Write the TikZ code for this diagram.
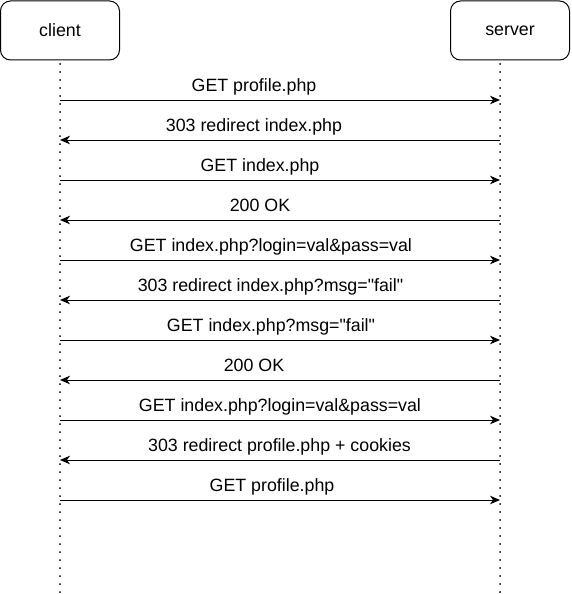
\documentclass[tikz,border=0pt]{standalone}
\usepackage{fontspec}
\setmainfont{Liberation Sans}
\usetikzlibrary{arrows.meta}
\begin{document}
\begin{tikzpicture}[x=1pt,y=-1pt,
  actor/.style={draw,line width=1pt,rounded corners=10pt,minimum width=119pt,minimum height=59pt,inner sep=0pt,font=\fontsize{17.8}{20}\selectfont},
  life/.style={line width=2pt,dash pattern=on 0pt off 8pt,line cap=round},
  msg/.style={line width=1pt,-{Stealth[length=10pt,width=8.5pt,inset=3pt]}},
  lbl/.style={font=\fontsize{17.8}{20}\selectfont,inner sep=0pt,anchor=base}]
\useasboundingbox (0,0) rectangle (571,594);
\node[actor] (client) at (60,30.5) {client};
\node[actor] (server) at (510,30.5) {server};
\coordinate (cb) at (60,594);
\coordinate (sb) at (500,594);
\coordinate (ct) at (60,64);
\coordinate (st) at (500,64);
\draw[life] (ct) -- (cb);
\draw[life] (st) -- (sb);
\foreach \i/\y/\dir/\x/\t in {
  1/100/r/254/{GET profile.php},
  2/140/l/254/{303 redirect index.php},
  3/180/r/260/{GET index.php},
  4/220/l/260/{200 OK},
  5/260/r/271/{GET index.php?login=val\&pass=val},
  6/300/l/270.5/{303 redirect index.php?msg=\textquotedbl fail\textquotedbl},
  7/340/r/271/{GET index.php?msg=\textquotedbl fail\textquotedbl},
  8/380/l/254/{200 OK},
  9/420/r/280/{GET index.php?login=val\&pass=val},
  10/460/l/279.5/{303 redirect profile.php + cookies},
  11/500/r/272/{GET profile.php}}{
  \coordinate (c\i) at (60,\y);
  \coordinate (s\i) at (500,\y);
  \node[lbl] (t\i) at (\x,\y-8.3) {\t};
  \if\dir r
    \draw[msg] (c\i) -- (s\i);
  \else
    \draw[msg] (s\i) -- (c\i);
  \fi
}
\end{tikzpicture}
\end{document}
